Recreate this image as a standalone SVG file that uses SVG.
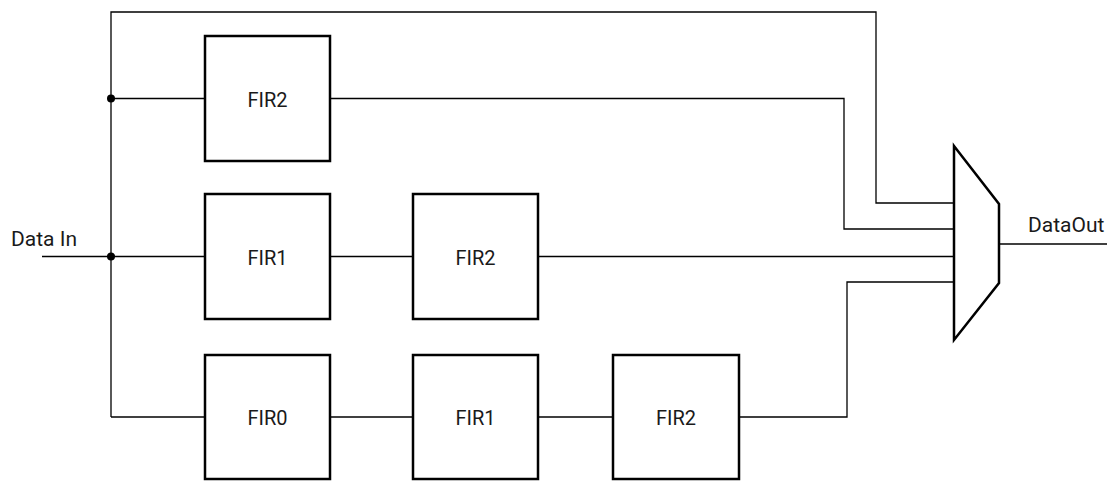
<svg xmlns="http://www.w3.org/2000/svg" width="1107" height="483" viewBox="0 0 1107 483">
<style>
.box{fill:#fff;stroke:#000;stroke-width:2.5}
.wire{fill:none;stroke:#000;stroke-width:1.3}
.lbl{font-family:Roboto,"Liberation Sans",sans-serif;font-size:20px;fill:#1a1a1a}
.io{font-size:21px}
.ctr{text-anchor:middle}
</style>
<rect width="1107" height="483" fill="#fff"/>
<g id="connectors">
<path class="wire" d="M111 417 V12 H876 V203 H954"/>
<path class="wire" d="M111 98.5 H205"/>
<path class="wire" d="M330 98.5 H844 V229 H954"/>
<path class="wire" d="M42 256.5 H205"/>
<path class="wire" d="M330 256.5 H413"/>
<path class="wire" d="M538 256.5 H954"/>
<path class="wire" d="M111 417 H205"/>
<path class="wire" d="M330 417 H413"/>
<path class="wire" d="M538 417 H613"/>
<path class="wire" d="M739 417 H847 V282 H954"/>
<path class="wire" d="M999 244 H1107"/>
<circle cx="111" cy="98.5" r="4" fill="#000"/>
<circle cx="111" cy="256.5" r="4" fill="#000"/>
</g>
<g id="data-in"><text class="lbl io" x="11" y="246">Data In</text></g>
<g id="data-out"><text class="lbl io" x="1028" y="232">DataOut</text></g>
<g id="r1-fir2"><rect class="box" x="205" y="36" width="125" height="125"/><text class="lbl ctr" x="267.5" y="106.5">FIR2</text></g>
<g id="r2-fir1"><rect class="box" x="205" y="194" width="125" height="125"/><text class="lbl ctr" x="267.5" y="264.5">FIR1</text></g>
<g id="r2-fir2"><rect class="box" x="413" y="194" width="125" height="125"/><text class="lbl ctr" x="475.5" y="264.5">FIR2</text></g>
<g id="r3-fir0"><rect class="box" x="205" y="355" width="125" height="124"/><text class="lbl ctr" x="267.5" y="425">FIR0</text></g>
<g id="r3-fir1"><rect class="box" x="413" y="355" width="125" height="124"/><text class="lbl ctr" x="475.5" y="425">FIR1</text></g>
<g id="r3-fir2"><rect class="box" x="613" y="355" width="126" height="124"/><text class="lbl ctr" x="676" y="425">FIR2</text></g>
<g id="mux"><polygon class="box" points="954,146 999,204 999,283 954,340"/></g>
</svg>
